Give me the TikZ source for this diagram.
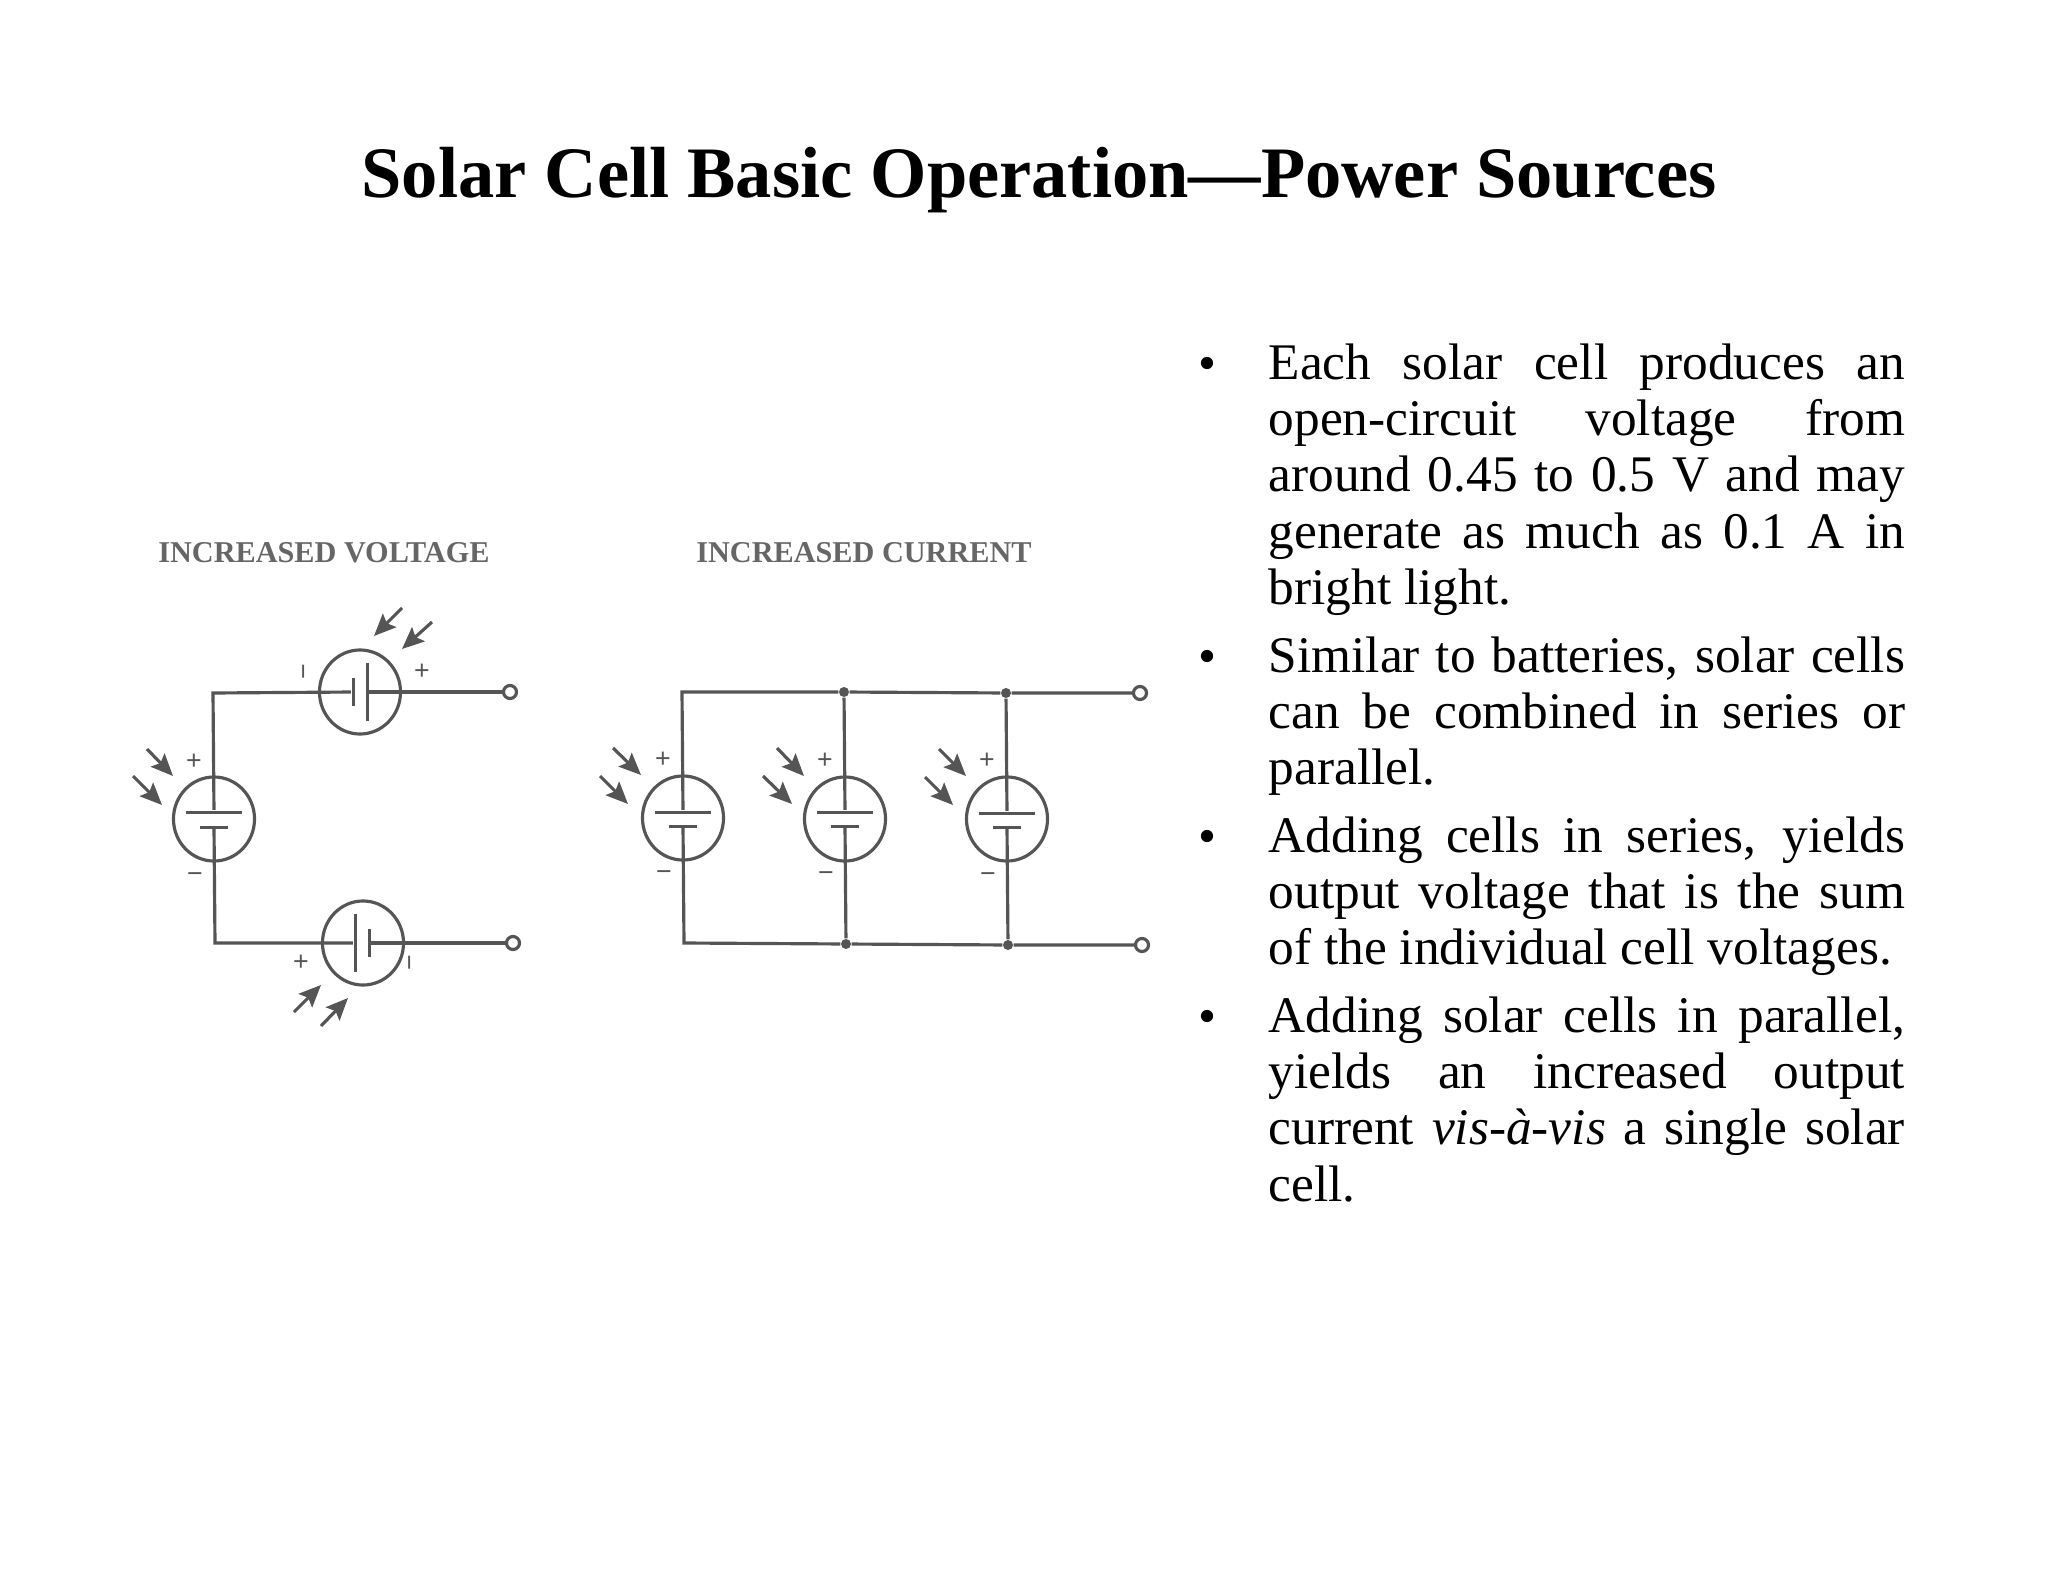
\documentclass[tikz,border=0pt]{standalone}
\usepackage{fontspec}
\setmainfont{Liberation Serif}
\newfontfamily\signfont{Liberation Sans}
\usetikzlibrary{shapes.geometric,arrows.meta}
\definecolor{inkgray}{HTML}{555555}
\definecolor{headgray}{HTML}{666666}
\tikzset{
	wire/.style={draw=inkgray,line width=0.9pt},
	cell/.style={draw=inkgray,line width=0.9pt,ellipse,inner sep=0pt,minimum width=0.81cm,minimum height=0.84cm},
	longh/.style={fill=inkgray,inner sep=0pt,minimum width=0.55cm,minimum height=0.03cm},
	shorth/.style={fill=inkgray,inner sep=0pt,minimum width=0.28cm,minimum height=0.03cm},
	longv/.style={fill=inkgray,inner sep=0pt,minimum width=0.03cm,minimum height=0.57cm},
	shortv/.style={fill=inkgray,inner sep=0pt,minimum width=0.03cm,minimum height=0.28cm},
	terminal/.style={circle,draw=inkgray,line width=0.9pt,fill=white,inner sep=0pt,minimum size=0.13cm},
	junction/.style={circle,fill=inkgray,inner sep=0pt,minimum size=0.1cm},
	ray/.style={draw=inkgray,line width=0.9pt,-{Stealth[length=2.2mm,width=1.9mm,inset=0.4mm]}},
	sign/.style={text=inkgray,inner sep=0pt,font=\signfont\fontsize{7.6}{8}\selectfont},
	circuithead/.style={text=headgray,inner sep=0pt,font=\bfseries\fontsize{8.6}{9}\selectfont},
	item/.style={anchor=north west,inner sep=0pt,text width=6.36cm,align=justify,font=\fontsize{14.6}{16}\selectfont},
	dot/.style={anchor=north west,inner sep=0pt,font=\fontsize{14.6}{16}\selectfont}
}

\begin{document}
\begin{tikzpicture}[x=0.01cm,y=-0.01cm]
	\useasboundingbox (0,0) rectangle (2048,1582);

	\node[inner sep=0pt,font=\bfseries\fontsize{20.6}{22}\selectfont] (title) at (1039,180) {Solar Cell Basic Operation---Power Sources};

	\node[circuithead] (headV) at (324,553) {INCREASED VOLTAGE};
	\node[circuithead] (headC) at (864,553) {INCREASED CURRENT};

	\node[cell] (cellT) at (360,692) {};
	\node[cell] (cellL) at (214,819) {};
	\node[cell] (cellB) at (363,943) {};

	\node[shortv] (plateTs) at (353,692) {};
	\node[longv] (plateTl) at (367,692) {};
	\node[longh] (plateLl) at (214,812) {};
	\node[shorth] (plateLs) at (214,827) {};
	\node[longv] (plateBl) at (355,943) {};
	\node[shortv] (plateBs) at (369,943) {};

	\coordinate (cornerVt) at (213,693);
	\coordinate (cornerVb) at (215,943);
	\node[terminal] (termVt) at (510,692) {};
	\node[terminal] (termVb) at (513,943) {};

	\draw[wire] (plateLl) -- (cornerVt) -- (plateTs);
	\draw[wire] (plateTl) -- (termVt);
	\draw[wire] (plateLs) -- (cornerVb) -- (plateBl);
	\draw[wire] (plateBs) -- (termVb);

	\node[sign,rotate=90] (signTm) at (308,672) {−};
	\node[sign] (signTp) at (422,672) {+};
	\node[sign] (signLp) at (194,762) {+};
	\node[sign] (signLm) at (195,878) {−};
	\node[sign] (signBp) at (301,963) {+};
	\node[sign,rotate=90] (signBm) at (414,963) {−};

	\coordinate (rayT1a) at (402,608);
	\coordinate (rayT1b) at (374,636);
	\coordinate (rayT2a) at (432,622);
	\coordinate (rayT2b) at (402,649);
	\coordinate (rayL1a) at (147,749);
	\coordinate (rayL1b) at (173,776);
	\coordinate (rayL2a) at (133,776);
	\coordinate (rayL2b) at (162,805);
	\coordinate (rayB1a) at (294,1012);
	\coordinate (rayB1b) at (321,985);
	\coordinate (rayB2a) at (321,1026);
	\coordinate (rayB2b) at (348,998);
	\draw[ray] (rayT1a) -- (rayT1b);
	\draw[ray] (rayT2a) -- (rayT2b);
	\draw[ray] (rayL1a) -- (rayL1b);
	\draw[ray] (rayL2a) -- (rayL2b);
	\draw[ray] (rayB1a) -- (rayB1b);
	\draw[ray] (rayB2a) -- (rayB2b);

	\node[cell] (cellP) at (683,818) {};
	\node[cell] (cellQ) at (845,819) {};
	\node[cell] (cellR) at (1007,819) {};

	\node[longh] (platePl) at (683,812) {};
	\node[shorth] (platePs) at (683,826) {};
	\node[longh] (plateQl) at (845,812) {};
	\node[shorth] (plateQs) at (845,826) {};
	\node[longh] (plateRl) at (1007,813) {};
	\node[shorth] (plateRs) at (1007,827) {};

	\coordinate (cornerCt) at (682,692);
	\coordinate (cornerCb) at (684,943);
	\node[junction] (junT1) at (844,692) {};
	\node[junction] (junT2) at (1006,693) {};
	\node[junction] (junB1) at (846,944) {};
	\node[junction] (junB2) at (1008,945) {};
	\node[terminal] (termCt) at (1140,693) {};
	\node[terminal] (termCb) at (1142,945) {};

	\draw[wire] (platePl) -- (cornerCt) -- (junT1) -- (junT2) -- (termCt);
	\draw[wire] (platePs) -- (cornerCb) -- (junB1) -- (junB2) -- (termCb);
	\draw[wire] (junT1) -- (plateQl);
	\draw[wire] (plateQs) -- (junB1);
	\draw[wire] (junT2) -- (plateRl);
	\draw[wire] (plateRs) -- (junB2);

	\node[sign] (signPp) at (663,760) {+};
	\node[sign] (signPm) at (664,876) {−};
	\node[sign] (signQp) at (825,761) {+};
	\node[sign] (signQm) at (826,877) {−};
	\node[sign] (signRp) at (987,761) {+};
	\node[sign] (signRm) at (988,878) {−};

	\coordinate (rayP1a) at (613,748);
	\coordinate (rayP1b) at (641,775);
	\coordinate (rayP2a) at (600,776);
	\coordinate (rayP2b) at (628,804);
	\coordinate (rayQ1a) at (777,748);
	\coordinate (rayQ1b) at (804,776);
	\coordinate (rayQ2a) at (763,776);
	\coordinate (rayQ2b) at (792,804);
	\coordinate (rayR1a) at (939,749);
	\coordinate (rayR1b) at (966,776);
	\coordinate (rayR2a) at (925,777);
	\coordinate (rayR2b) at (953,805);
	\draw[ray] (rayP1a) -- (rayP1b);
	\draw[ray] (rayP2a) -- (rayP2b);
	\draw[ray] (rayQ1a) -- (rayQ1b);
	\draw[ray] (rayQ2a) -- (rayQ2b);
	\draw[ray] (rayR1a) -- (rayR1b);
	\draw[ray] (rayR2a) -- (rayR2b);

	\node[dot] (dotA) at (1198,357) {•};
	\node[item] (itemA) at (1268,343) {\baselineskip=0.562cm Each solar cell produces an\linebreak open-circuit voltage from\linebreak around 0.45 to 0.5 V and may\linebreak generate as much as 0.1 A in\linebreak bright light.};
	\node[dot] (dotB) at (1198,650) {•};
	\node[item] (itemB) at (1268,636) {\baselineskip=0.562cm Similar to batteries, solar cells\linebreak can be combined in series or\linebreak parallel.};
	\node[dot] (dotC) at (1198,830) {•};
	\node[item] (itemC) at (1268,816) {\baselineskip=0.562cm Adding cells in series, yields\linebreak output voltage that is the sum\linebreak of the individual cell voltages.};
	\node[dot] (dotD) at (1198,1010) {•};
	\node[item] (itemD) at (1268,996) {\baselineskip=0.562cm Adding solar cells in parallel,\linebreak yields an increased output\linebreak current \emph{vis-à-vis} a single solar\linebreak cell.};
\end{tikzpicture}
\end{document}
